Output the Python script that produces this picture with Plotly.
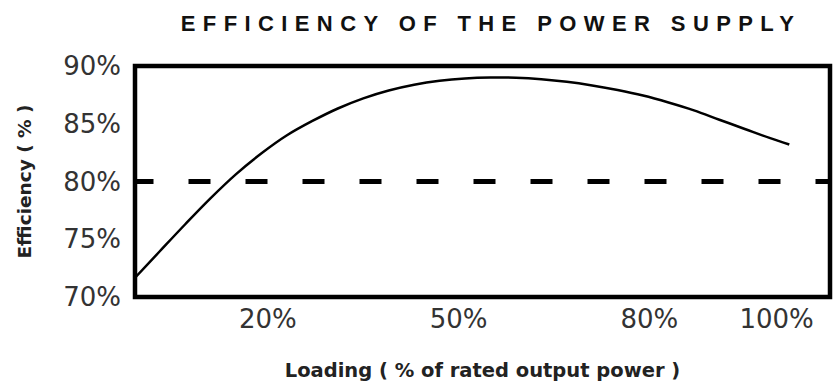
import plotly.graph_objects as go

# Data
loading = [-1, 3, 7, 11, 15, 19, 23, 27, 31, 35, 39, 43, 47, 51, 55, 59, 63, 67, 71,
           75, 79, 83, 87, 91, 95, 99, 102]
efficiency = [71.6, 73.96, 76.3, 78.56, 80.64, 82.44, 84.0, 85.24, 86.32, 87.2, 87.88,
              88.38, 88.72, 88.92, 89.0, 88.98, 88.86, 88.64, 88.32, 87.92, 87.44,
              86.84, 86.16, 85.35, 84.55, 83.75, 83.2]
threshold = 80
threshold_x = [-1.45, 110]

x_tickvals = [20, 50, 80, 100]
x_ticktext = ["20%", "50%", "80%", "100%"]
y_tickvals = [70, 75, 80, 85, 90]
y_ticktext = ["70%", "75%", "80%", "85%", "90%"]

title_text = "EFFICIENCY OF THE POWER SUPPLY"
x_title = "Loading ( % of rated output power )"
y_title = "Efficiency ( % )"

fig = go.Figure()
fig.add_trace(go.Scatter(
    x=threshold_x, y=[threshold, threshold], mode="lines",
    line=dict(color="#000000", width=5, dash="22px,35px"),
    hoverinfo="skip", showlegend=False))
fig.add_trace(go.Scatter(
    x=loading, y=efficiency, mode="lines",
    line=dict(color="#000000", width=2.5, shape="spline", smoothing=1.0),
    showlegend=False))

W, H = 837, 384
L, R, T, B = 135, 7, 66, 87

fig.update_layout(
    width=W, height=H,
    margin=dict(l=L, r=R, t=T, b=B, pad=0, autoexpand=False),
    plot_bgcolor="white", paper_bgcolor="white",
    showlegend=False,
    title=dict(
        text='<span style="letter-spacing:7.4px">' + title_text + '</span>',
        font=dict(family="Liberation Sans", size=22, color="#111111", weight="bold"),
        x=491 / W, xref="container", xanchor="center",
        y=1 - 23 / H, yref="container", yanchor="middle"),
    xaxis=dict(
        range=[-0.9, 108.4], tickvals=x_tickvals, ticktext=x_ticktext,
        showgrid=False, zeroline=False, showline=False, ticks="",
        ticklabelstandoff=4, automargin=False,
        tickfont=dict(family="DejaVu Sans", size=26, color="#333333"),
        title=dict(text=x_title, standoff=30,
                   font=dict(family="DejaVu Sans", size=19.5, color="#222222", weight="bold"))),
    yaxis=dict(
        range=[70, 90], tickvals=y_tickvals, ticktext=y_ticktext,
        showgrid=False, zeroline=False, showline=False, ticks="",
        ticklabelstandoff=13, automargin=False,
        tickfont=dict(family="DejaVu Sans", size=26, color="#333333"),
        title=dict(text=y_title, standoff=26,
                   font=dict(family="DejaVu Sans", size=18.5, color="#222222", weight="bold"))),
    shapes=[dict(type="rect", xref="paper", yref="paper", x0=0, x1=1, y0=0, y1=1,
                 line=dict(color="#000000", width=4.5), fillcolor="rgba(0,0,0,0)",
                 layer="above")],
)

fig.write_html("out.html", config={"displayModeBar": False},
               post_script="document.body.style.margin='0px';")
